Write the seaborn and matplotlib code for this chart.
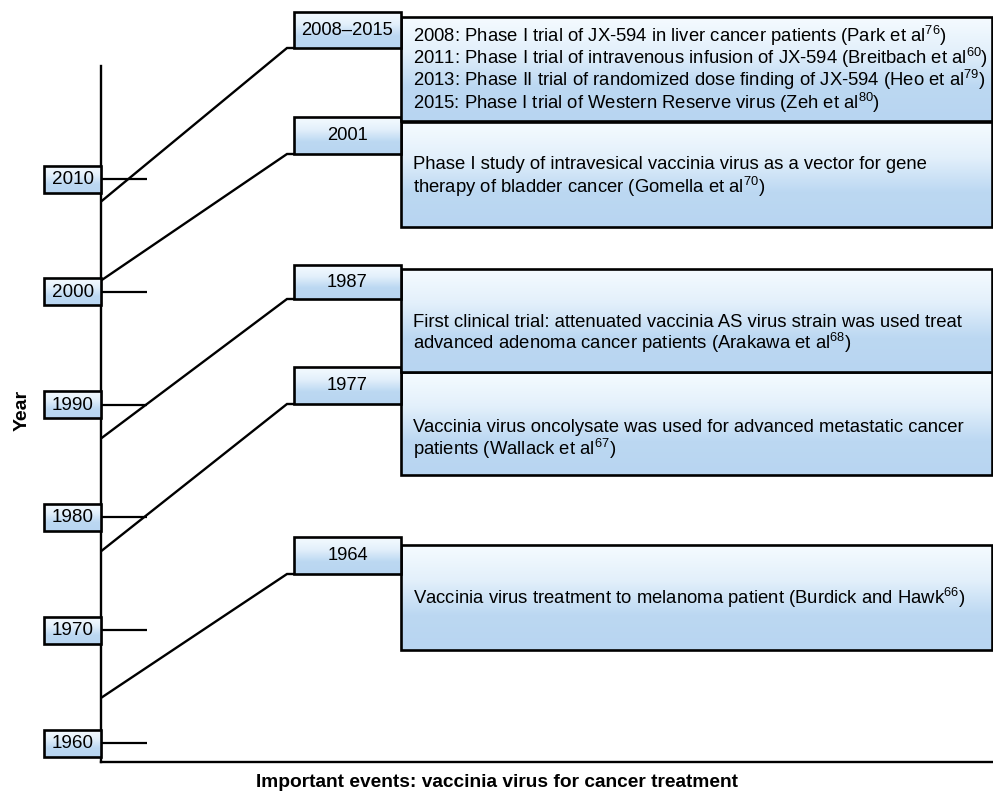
import numpy as np
import pandas as pd
import matplotlib
matplotlib.use("Agg")
import matplotlib.pyplot as plt
from matplotlib.colors import LinearSegmentedColormap
from matplotlib.patches import Rectangle
import seaborn as sns

# ---------------- data ----------------
tick_years = [1960, 1970, 1980, 1990, 2000, 2010]
event_years = [1964, 1977, 1987, 2001, 2008]
event_labels = ["1964", "1977", "1987", "2001", "2008\u20132015"]
event_texts = [
    "Vaccinia virus treatment to melanoma patient (Burdick and Hawk$^{66}$)",
    "Vaccinia virus oncolysate was used for advanced metastatic cancer\npatients (Wallack et al$^{67}$)",
    "First clinical trial: attenuated vaccinia AS virus strain was used treat\nadvanced adenoma cancer patients (Arakawa et al$^{68}$)",
    "Phase I study of intravesical vaccinia virus as a vector for gene\ntherapy of bladder cancer (Gomella et al$^{70}$)",
    "2008: Phase I trial of JX-594 in liver cancer patients (Park et al$^{76}$)\n"
    "2011: Phase I trial of intravenous infusion of JX-594 (Breitbach et al$^{60}$)\n"
    "2013: Phase II trial of randomized dose finding of JX-594 (Heo et al$^{79}$)\n"
    "2015: Phase I trial of Western Reserve virus (Zeh et al$^{80}$)",
]
x_title = "Important events: vaccinia virus for cancer treatment"
y_title = "Year"

# ---------------- style / layout ----------------
sns.set_style("white")
FAM = ["Liberation Sans", "DejaVu Sans"]
plt.rcParams["font.family"] = FAM
plt.rcParams["text.color"] = "black"
plt.rcParams["axes.labelcolor"] = "black"
plt.rcParams["mathtext.default"] = "regular"

W, H = 993, 799
fig = plt.figure(figsize=(W / 100, H / 100), dpi=100)

AX_LEFT, AX_TOP, AX_BOTTOM = 101, 66, 762
ax = fig.add_axes([AX_LEFT / W, (H - AX_BOTTOM) / H, (W - AX_LEFT) / W, (AX_BOTTOM - AX_TOP) / H])
ax.set_facecolor("none")
ax.set_xlim(0, 1)
ax.set_ylim(1958.32, 2020.02)
sns.despine(ax=ax)
for s in ("left", "bottom"):
    ax.spines[s].set_linewidth(1.7)
    ax.spines[s].set_color("black")
ax.set_xticks([])
ax.set_yticks(tick_years)
ax.tick_params(axis="y", which="major", left=True, direction="in", length=33,
               width=1.6, color="black", labelleft=False)
ax.set_xlabel(x_title, fontsize=13.8, fontweight="bold", family=FAM)
ax.xaxis.set_label_coords((497 - AX_LEFT) / (W - AX_LEFT), -(774 - AX_BOTTOM) / (AX_BOTTOM - AX_TOP))
ax.set_ylabel(y_title, fontsize=14, fontweight="bold", family=FAM)
ax.yaxis.set_label_coords(-(AX_LEFT - 31) / (W - AX_LEFT), (AX_BOTTOM - 410) / (AX_BOTTOM - AX_TOP))

# overlay in pixel coordinates (y downward)
ov = fig.add_axes([0, 0, 1, 1])
ov.set_facecolor("none")
ov.axis("off")

cmap = LinearSegmentedColormap.from_list("g", ["#f5fbff", "#e3f0fb", "#bcd8f2", "#b8d5f1"])
grad = np.linspace(0, 1, 256).reshape(-1, 1)


def gbox(x0, y0, x1, y1, lw, z):
    ov.imshow(grad, extent=(x0, x1, y1, y0), cmap=cmap, aspect="auto",
              interpolation="bilinear", zorder=z, vmin=0, vmax=1)
    ov.add_patch(Rectangle((x0, y0), x1 - x0, y1 - y0, fill=False, ec="black",
                           lw=lw, zorder=z + 0.1, joinstyle="miter"))


def year_px(yr):
    d = ax.transData.transform((0.0, yr))
    return H - d[1]


# year label boxes on axis ticks
for i, yr in enumerate(ax.get_yticks()):
    yc = year_px(yr)
    gbox(44, yc - 13.5, 101, yc + 13.5, 1.9, 5)
    ov.text(73, yc + 0.5, f"{int(yr)}", ha="center", va="center", fontsize=13.6, zorder=6)

# event boxes: pixel layout (label box top/bottom, description box top/bottom, text centre)
lab_top = [537, 367, 265, 117, 12]
lab_bot = [574, 404, 299, 154, 48]
desc_top = [545, 372, 269, 122, 17]
desc_bot = [650, 475, 372, 227, 121]
text_c = [597, 437, 331, 174, 68.5]
line_gap = [23, 23, 22, 24, 22.3]

LB_X0, LB_X1, DX1 = 294, 401, 992
BEND_X = 287
FS = 13.3
HALF_CAP = 6.7

for i, (yr, lab, txt) in enumerate(zip(event_years, event_labels, event_texts)):
    z = 10 + i * 2
    ys = year_px(yr)
    ov.plot([AX_LEFT, BEND_X, LB_X0], [ys, lab_bot[i], lab_bot[i]], color="black",
            lw=1.7, zorder=3, solid_joinstyle="miter", solid_capstyle="butt")
    gbox(LB_X1, desc_top[i], DX1, desc_bot[i], 1.9, z)
    gbox(LB_X0, lab_top[i], LB_X1, lab_bot[i], 1.9, z + 0.5)
    ov.text((LB_X0 + LB_X1) / 2, (lab_top[i] + lab_bot[i]) / 2 + 0.5, lab,
            ha="center", va="center", fontsize=13.2, zorder=z + 1)
    lines = txt.split("\n")
    n = len(lines)
    for k, line in enumerate(lines):
        yc = text_c[i] + (k - (n - 1) / 2) * line_gap[i]
        ov.text(413, yc + HALF_CAP, line, ha="left", va="baseline", fontsize=FS,
                zorder=z + 1)

ov.set_xlim(0, W)
ov.set_ylim(H, 0)

fig.savefig("out.png", dpi=100)
